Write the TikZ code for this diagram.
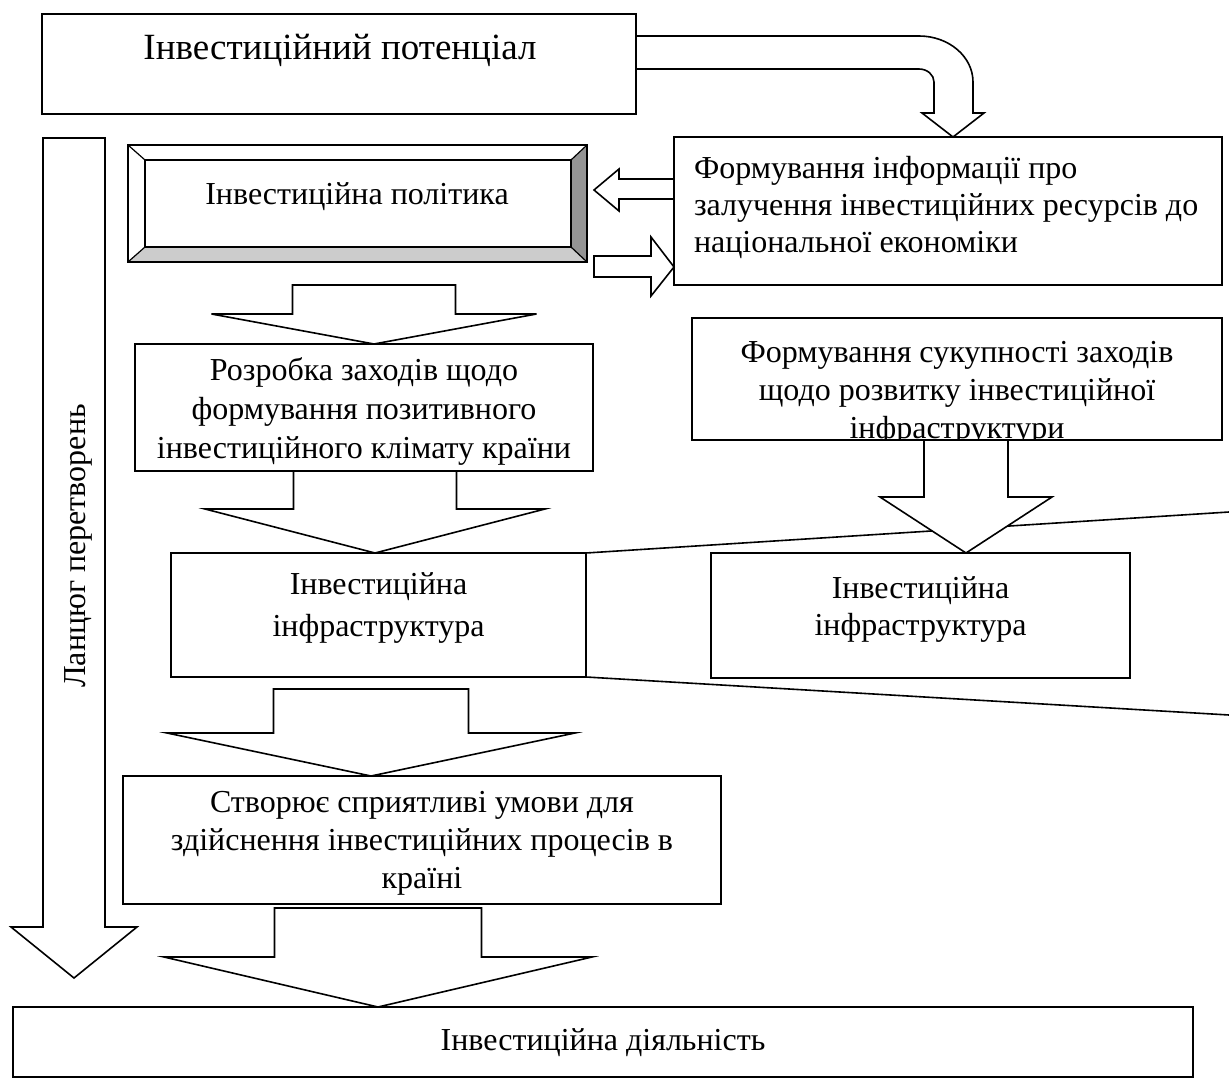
\documentclass[tikz,border=0pt]{standalone}
\usepackage{fontspec}
\setmainfont{Liberation Serif}
% multi-line text whose baseline is that of its first line
\newcommand\tlines[2]{\begin{tabular}[t]{@{}#1@{}}#2\end{tabular}}
% rectangle node given by its top-left and bottom-right corners
\newcommand\boxnode[5]{\node[box, anchor=north west, minimum width={#4-#2}, minimum height={#5-#3}] (#1) at (#2,#3) {};}
% wide block arrow pointing down: centre x, top y, neck y, tip y, shaft half width, head half width
\newcommand\downblock[6]{\filldraw[blockarrow] ({#1-#5},#2) -- ({#1+#5},#2) -- ({#1+#5},#3) -- ({#1+#6},#3) -- (#1,#4) -- ({#1-#6},#3) -- ({#1-#5},#3) -- cycle;}
\begin{document}
\begin{tikzpicture}[x=1pt,y=-1pt,
  every node/.style={inner sep=0pt, outer sep=0pt, font=\fontsize{32}{37}\selectfont},
  box/.style={draw, fill=white, line width=1.6pt, rectangle},
  blockarrow/.style={draw, fill=white, line width=1.6pt},
  edge line/.style={draw, line width=1.6pt}]
\useasboundingbox (0,0) rectangle (1229,1086);

% boxes
\boxnode{pot}{42}{14}{636}{114}
\boxnode{info}{674}{137}{1222}{285}
\boxnode{bev}{128}{145}{587}{262}
\boxnode{roz}{135}{344}{593}{471}
\boxnode{suk}{692}{318}{1222}{440}
\boxnode{infL}{171}{553}{586}{677}
\boxnode{infR}{711}{553}{1130}{678}
\boxnode{stv}{123}{776}{721}{904}
\boxnode{act}{13}{1007}{1193}{1077}

% bevelled frame of the policy box
\coordinate (bi1) at (145,160);
\coordinate (bi2) at (571,160);
\coordinate (bi3) at (571,247);
\coordinate (bi4) at (145,247);
\fill[black!20] (bev.south west) -- (bi4) -- (bi3) -- (bev.south east) -- cycle;
\fill[black!42] (bev.north east) -- (bi2) -- (bi3) -- (bev.south east) -- cycle;
\draw[line width=1.6pt] (bev.north west) rectangle (bev.south east);
\draw[line width=1.6pt] (bi1) rectangle (bi3);
\draw[line width=1.2pt] (bev.north west) -- (bi1) (bev.north east) -- (bi2)
  (bev.south east) -- (bi3) (bev.south west) -- (bi4);

% lines opening out from the infrastructure box
\coordinate (zu) at (1229,512);
\coordinate (zl) at (1229,715);
\draw[edge line] (infL.north east) -- (zu);
\draw[edge line] (infL.south east) -- (zl);

% bent arrow from the potential box down to the information box
\filldraw[blockarrow] (636,36) -- (919,36)
  arc[start angle=-90, end angle=0, x radius=54, y radius=46]
  -- (973,113) -- (984,113) -- (953,137) -- (922,113) -- (934,113) -- (934,82)
  arc[start angle=0, end angle=-90, x radius=15, y radius=13]
  -- (636,69) -- cycle;

% arrows between policy and information boxes
\filldraw[blockarrow] (674,179) -- (619,179) -- (619,169) -- (594,190) -- (619,211) -- (619,199) -- (674,199) -- cycle;
\filldraw[blockarrow] (594,256) -- (651,256) -- (651,237) -- (674,267) -- (651,296) -- (651,277) -- (594,277) -- cycle;

% downward block arrows
\downblock{374}{285}{314}{344}{81.5}{162.5}
\downblock{375}{471}{509}{553}{81.5}{170}
\downblock{371}{689}{733}{776}{97.5}{204}
\downblock{966}{440}{497}{553}{42}{86}
\downblock{378}{908}{957}{1007}{103.5}{214}
\downblock{74}{138}{927}{978}{31}{63}

% texts
\node[anchor=base, font=\fontsize{37}{42}\selectfont] (potT) at (340,60) {Інвестиційний потенціал};
\node[anchor=base] (bevT) at (357,205) {Інвестиційна політика};
\node[anchor=base west] (infoT) at (694,179) {\tlines{l}{Формування інформації про\\залучення інвестиційних ресурсів до\\національної економіки}};
\node[anchor=base, font=\fontsize{32}{39}\selectfont] (rozT) at (364,380) {\tlines{c}{Розробка заходів щодо\\формування позитивного\\інвестиційного клімату країни}};
\begin{scope}
  \clip (suk.north west) rectangle (suk.south east);
  \node[anchor=base, font=\fontsize{32}{38}\selectfont] (sukT) at (957,362) {\tlines{c}{Формування сукупності заходів\\щодо розвитку інвестиційної\\інфраструктури}};
\end{scope}
\draw[line width=1.6pt] (suk.south west) -- (suk.south east);
\node[anchor=base, font=\fontsize{32}{42}\selectfont] (infLT) at (378.5,594) {\tlines{c}{Інвестиційна\\інфраструктура}};
\node[anchor=base] (infRT) at (920.5,598) {\tlines{c}{Інвестиційна\\інфраструктура}};
\node[anchor=base, font=\fontsize{32}{38}\selectfont] (stvT) at (422,812) {\tlines{c}{Створює сприятливі умови для\\здійснення інвестиційних процесів в\\країні}};
\node[anchor=base] (actT) at (603,1050) {Інвестиційна діяльність};
\node[anchor=base, rotate=90] (lanT) at (85,546) {Ланцюг перетворень};
\end{tikzpicture}
\end{document}
